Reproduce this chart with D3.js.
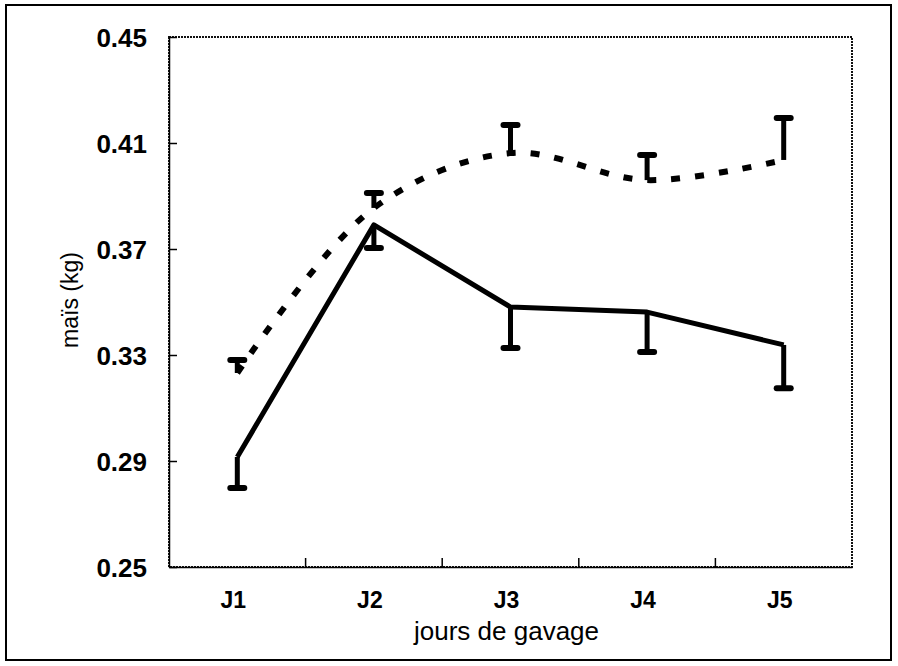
<!DOCTYPE html>
<html>
<head>
<meta charset="utf-8">
<script src="https://cdn.jsdelivr.net/npm/d3@7"></script>
<style>
  body { margin: 0; background: #fff; }
  text { font-family: Arial, "Liberation Sans", sans-serif; fill: #000; }
</style>
</head>
<body>
<div id="chart"></div>
<script>
// jours de gavage
let days = ["J1", "J2", "J3", "J4", "J5"]
let yTicks = [0.25, 0.29, 0.33, 0.37, 0.41, 0.45]

// solid line, error bars go down
let solidMean = [0.2915, 0.3791, 0.3481, 0.3462, 0.3338]
let solidErr  = [0.0117, 0.0087, 0.0155, 0.0151, 0.0163]

// dashed line, error bars go up
let dashMean = [0.3232, 0.3855, 0.4062, 0.3960, 0.4036]
let dashErr  = [0.0049, 0.0056, 0.0106, 0.0095, 0.0158]

var W = 898, H = 666
var plot = {left: 169, top: 37, right: 852, bottom: 567}

var svg = d3.select("#chart")
  .append("svg")
    .attr("width", W)
    .attr("height", H)

// outer frame
svg.append("rect")
  .attr("x", 6).attr("y", 5)
  .attr("width", 885).attr("height", 655)
  .attr("fill", "none")
  .attr("stroke", "#000")
  .attr("stroke-width", 2)

var x = d3.scaleBand()
  .domain(days)
  .range([plot.left, plot.right])
  .padding(0)

var y = d3.scaleLinear()
  .domain([0.25, 0.45])
  .range([plot.bottom, plot.top])

var cx = d => x(d) + x.bandwidth()/2

// plot area border (dotted)
svg.append("rect")
  .attr("x", plot.left).attr("y", plot.top)
  .attr("width", plot.right - plot.left)
  .attr("height", plot.bottom - plot.top)
  .attr("fill", "none")
  .attr("stroke", "#111")
  .attr("stroke-width", 2)
  .attr("stroke-dasharray", "2,1")

// y axis
let yAxis = svg.append("g")
  .attr("transform", `translate(${plot.left},0)`)
  .call(d3.axisLeft(y).tickValues(yTicks).tickFormat(d3.format(".2f"))
        .tickSizeInner(-8).tickSizeOuter(0).tickPadding(22))
yAxis.select(".domain").attr("stroke", "#000").attr("stroke-width", 1.5)
yAxis.selectAll(".tick line").attr("stroke", "#000").attr("stroke-width", 1.5)
yAxis.selectAll("text")
  .attr("dy", "0.36em")
  .style("font-size", "26px")
  .style("font-weight", "bold")

// x axis labels
let xAxis = svg.append("g")
  .attr("transform", `translate(0,${plot.bottom})`)
  .call(d3.axisBottom(x).tickSize(0).tickPadding(25))
xAxis.select(".domain").attr("stroke", "#000").attr("stroke-width", 1.5)
xAxis.selectAll("text")
  .attr("dx", -4)
  .style("font-size", "23px")
  .style("font-weight", "bold")

// x ticks between categories
svg.selectAll(".xtick")
  .data(days.slice(1))
  .join("line")
  .attr("class", "xtick")
  .attr("x1", d => x(d)).attr("x2", d => x(d))
  .attr("y1", plot.bottom).attr("y2", plot.bottom - 9)
  .attr("stroke", "#000")
  .attr("stroke-width", 1.5)

// axis titles
svg.append("text")
  .attr("x", (plot.left + plot.right)/2 - 4)
  .attr("y", 640)
  .attr("text-anchor", "middle")
  .style("font-size", "26px")
  .text("jours de gavage")

svg.append("text")
  .attr("transform", "translate(78,300) rotate(-90)")
  .attr("text-anchor", "middle")
  .style("font-size", "23px")
  .text("maïs (kg)")

// lines
var solidLine = d3.line()
  .x((d, i) => cx(days[i]))
  .y(d => y(d))

var dashLine = d3.line()
  .x((d, i) => cx(days[i]))
  .y(d => y(d))
  .curve(d3.curveCatmullRom.alpha(0.5))

svg.append("path")
  .datum(dashMean)
  .attr("d", dashLine)
  .attr("fill", "none")
  .attr("stroke", "#000")
  .attr("stroke-width", 6)
  .attr("stroke-dasharray", "9,15")

svg.append("path")
  .datum(solidMean)
  .attr("d", solidLine)
  .attr("fill", "none")
  .attr("stroke", "#000")
  .attr("stroke-width", 5)
  .attr("stroke-linejoin", "round")

// error bars
function errorBars(mean, err, dir, cls) {
  let g = svg.append("g").attr("class", cls)
  g.selectAll("line.v")
    .data(mean)
    .join("line")
    .attr("class", "v")
    .attr("x1", (d, i) => cx(days[i])).attr("x2", (d, i) => cx(days[i]))
    .attr("y1", d => y(d))
    .attr("y2", (d, i) => y(d + dir*err[i]))
    .attr("stroke", "#000")
    .attr("stroke-width", 5)
  g.selectAll("line.cap")
    .data(mean)
    .join("line")
    .attr("class", "cap")
    .attr("x1", (d, i) => cx(days[i]) - 7).attr("x2", (d, i) => cx(days[i]) + 7)
    .attr("y1", (d, i) => y(d + dir*err[i]))
    .attr("y2", (d, i) => y(d + dir*err[i]))
    .attr("stroke", "#000")
    .attr("stroke-width", 6)
    .attr("stroke-linecap", "round")
}
errorBars(solidMean, solidErr, -1, "err-solid")
errorBars(dashMean, dashErr, 1, "err-dash")
</script>
</body>
</html>
